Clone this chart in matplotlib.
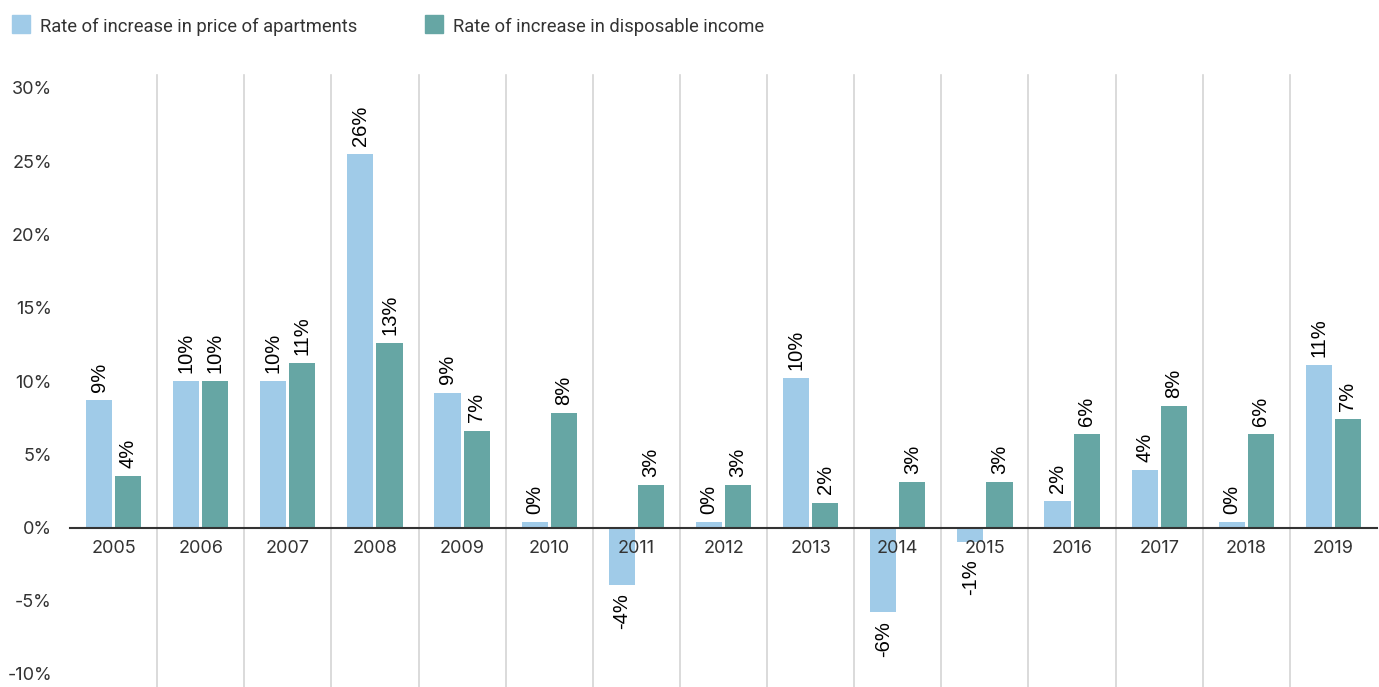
import matplotlib.pyplot as plt
import numpy as np
from matplotlib.patches import Rectangle

# Data
years = ["2005", "2006", "2007", "2008", "2009", "2010", "2011", "2012",
         "2013", "2014", "2015", "2016", "2017", "2018", "2019"]
price_growth = [8.7, 10.0, 10.0, 25.5, 9.2, 0.35, -3.9, 0.35,
                10.2, -5.8, -1.0, 1.8, 3.9, 0.35, 11.1]
income_growth = [3.5, 10.0, 11.2, 12.6, 6.6, 7.8, 2.9, 2.9,
                 1.7, 3.1, 3.1, 6.35, 8.3, 6.35, 7.4]
series_names = ["Rate of increase in price of apartments",
                "Rate of increase in disposable income"]
colors = ["#a0cbe8", "#66a6a4"]
y_ticks = [-10, -5, 0, 5, 10, 15, 20, 25, 30]

plt.rcParams['font.family'] = ['Inter', 'DejaVu Sans']

fig = plt.figure(figsize=(13.79, 6.87), dpi=100)
W, H = 1379, 687
ax = fig.add_axes([70 / W, 1 - 674 / H, (1377 - 70) / W, (674 - 88) / H])

x = np.arange(len(years))
bw = 0.3
off = 0.167
bars_p = ax.bar(x - off, price_growth, bw, color=colors[0], zorder=1)
bars_i = ax.bar(x + off, income_growth, bw, color=colors[1], zorder=1)

def fmt(v):
    return f"{int(np.floor(abs(v) + 0.5)) * (1 if v >= 0 else -1)}%"

# rotated value labels above / below each bar;
# small negative bars get their label pushed below the year labels
lab_font = dict(rotation=90, ha="center", fontsize=14.5, color="#000000",
                family=["Liberation Sans", "DejaVu Sans"])
for bars, vals in ((bars_p, price_growth), (bars_i, income_growth)):
    for b, v in zip(bars, vals):
        cx = b.get_x() + b.get_width() / 2
        if v >= 0:
            ax.annotate(fmt(v), (cx, v), xytext=(0, 6), textcoords="offset points",
                        va="bottom", **lab_font)
        else:
            ax.annotate(fmt(v), (cx, min(v, -1.6)), xytext=(0, -6),
                        textcoords="offset points", va="top", **lab_font)

ax.set_xlim(-0.5, len(years) - 0.5)
ax.set_ylim(-10, 30)
ax.set_yticks(y_ticks)
ax.set_yticklabels([f"{t}%" for t in y_ticks])
ax.set_xticks(x)
ax.set_xticklabels(years)
ax.tick_params(axis="both", length=0, labelsize=13, labelcolor="#333333")
ax.tick_params(axis="y", pad=13)
ax.tick_params(axis="x", pad=9)

for s in ("top", "right", "left"):
    ax.spines[s].set_visible(False)
ax.spines["bottom"].set_position(("data", 0))
ax.spines["bottom"].set_color("#333333")
ax.spines["bottom"].set_linewidth(1.5)
ax.spines["bottom"].set_zorder(3)

# separators between years
for b in x[:-1] + 0.5:
    ax.axvline(b, ymin=-0.025, ymax=1.022, color="#d4d4d4", lw=1.2,
               clip_on=False, zorder=0)

# legend
legend_x = [12, 425]
for lx, name, c in zip(legend_x, series_names, colors):
    fig.add_artist(Rectangle((lx / W, 1 - 33 / H), 18 / W, 18 / H,
                             transform=fig.transFigure, color=c))
    fig.text((lx + 28) / W, 1 - 27 / H, name, fontsize=13.2, color="#333333",
             va="center", ha="left", family=["Roboto", "DejaVu Sans"])

fig.savefig("out.png", dpi=100)
